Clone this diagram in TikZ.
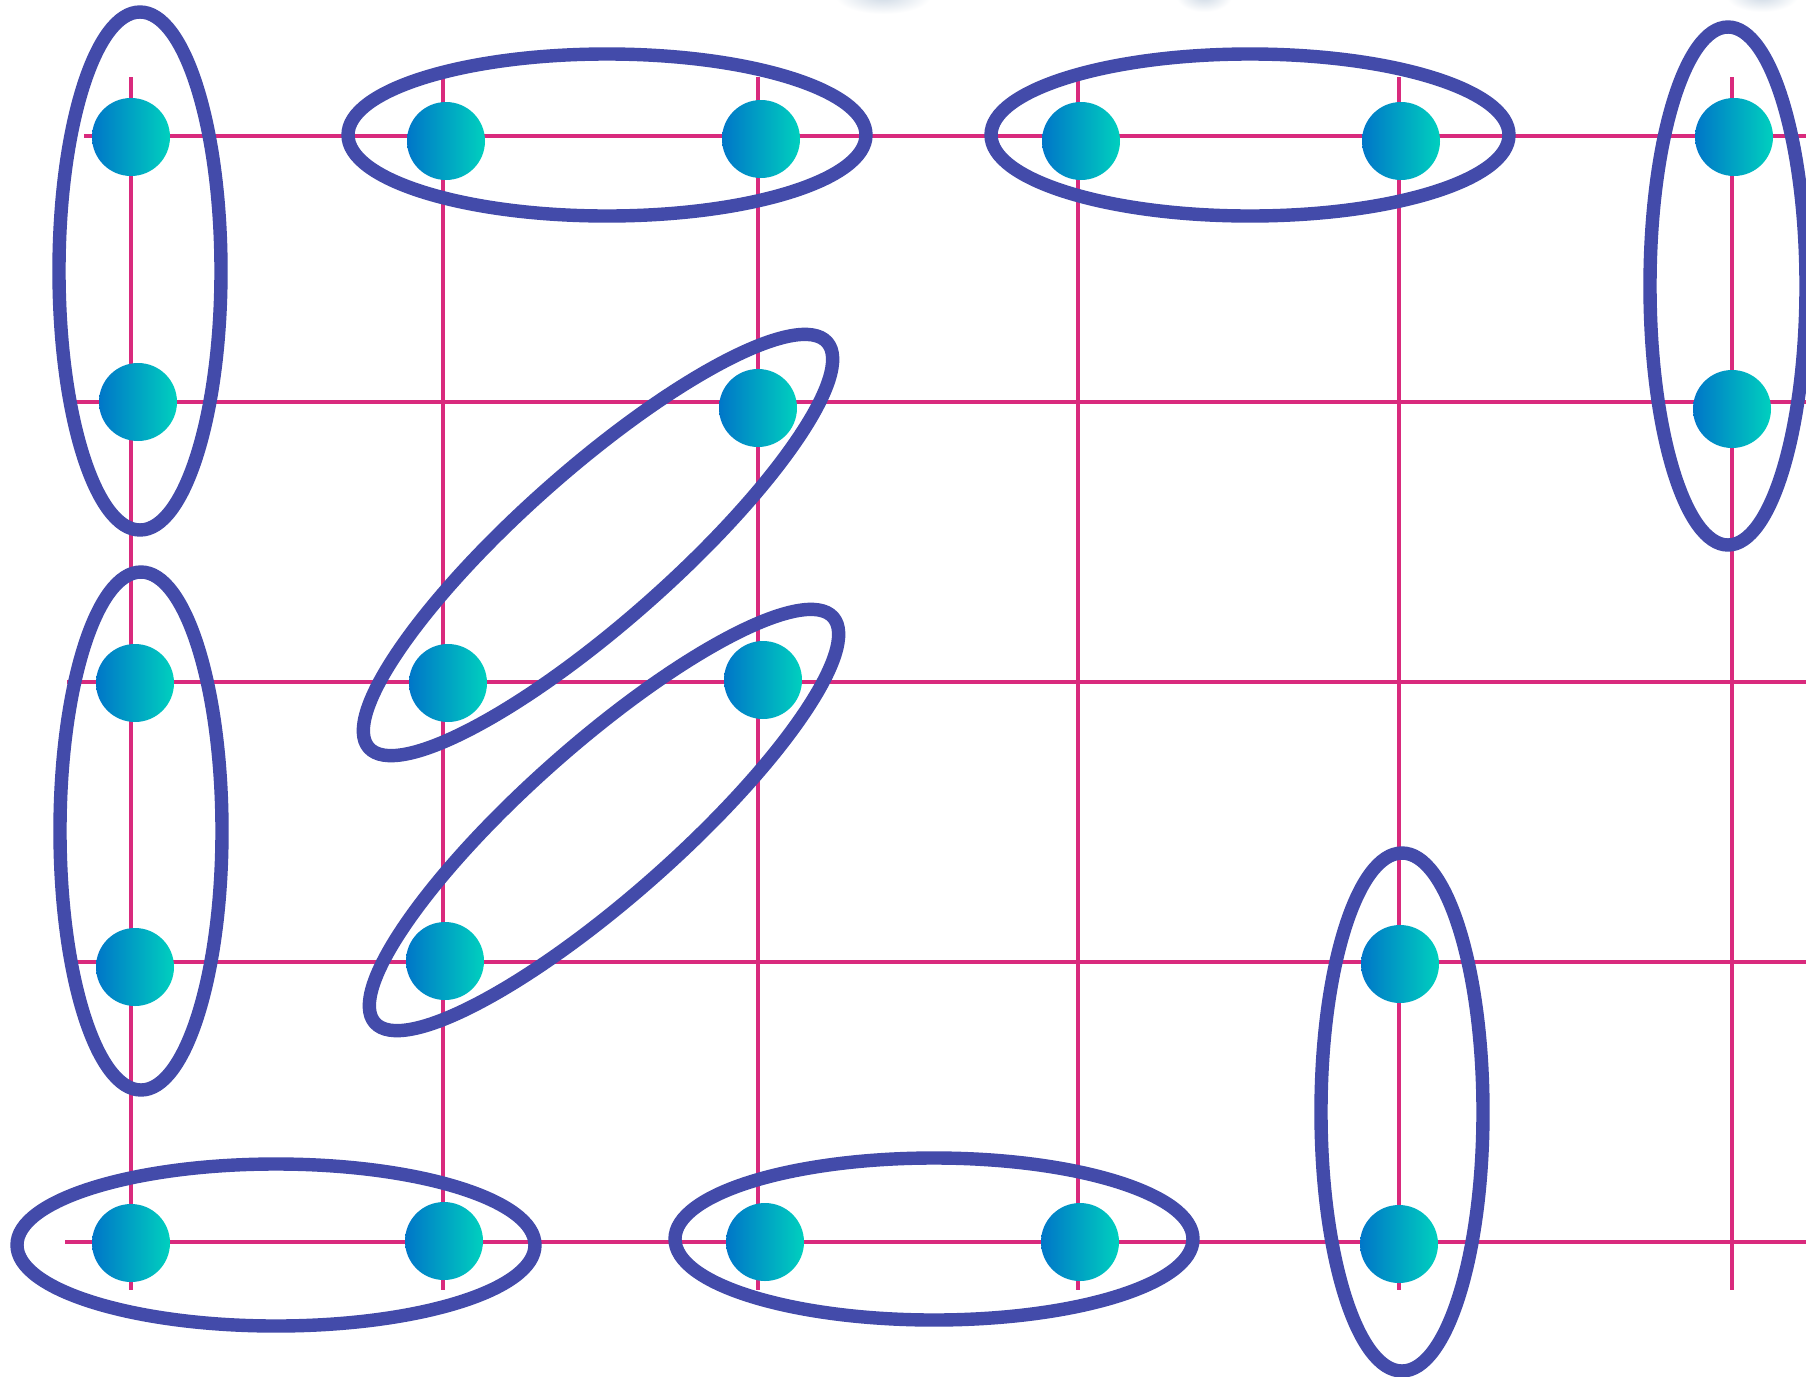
\documentclass[tikz,border=0pt]{standalone}
\usetikzlibrary{shapes.geometric}
\definecolor{gridpink}{RGB}{217,42,125}
\definecolor{ringblue}{RGB}{67,75,170}
\definecolor{dotleft}{RGB}{0,118,200}
\definecolor{dotright}{RGB}{0,208,190}
\definecolor{blobgray}{RGB}{205,216,228}
\tikzset{
  gridline/.style={draw=gridpink, line width=2.1pt},
  ring/.style={draw=ringblue, line width=6.7pt},
  dot/.style={circle, minimum size=39pt, inner sep=0pt, draw=none,
              left color=dotleft, right color=dotright},
  blob/.style={inner color=blobgray, outer color=white}
}
\begin{document}
\begin{tikzpicture}[x=0.5pt,y=-0.5pt]
\useasboundingbox (0,0) rectangle (1806,1377);
\clip (0,0) rectangle (1806,1377);
\fill[white] (0,0) rectangle (1806,1377);

% faint blobs at the top edge
\shade[blob] (883,-4) ellipse [x radius=24pt, y radius=9pt];
\shade[blob] (1204,-4) ellipse [x radius=14pt, y radius=8pt];
\shade[blob] (1762,-4) ellipse [x radius=18pt, y radius=8pt];

% grid
\foreach \x in {131,443,758,1078,1399,1732}
  \draw[gridline] (\x,77) -- (\x,1290);
\draw[gridline] (84,136) -- (1810,136);
\draw[gridline] (76,402) -- (1810,402);
\draw[gridline] (67,682) -- (1810,682);
\draw[gridline] (77,962) -- (1810,962);
\draw[gridline] (65,1242) -- (1810,1242);

% dots
\node[dot] (d1)  at (131,137)  {};
\node[dot] (d2)  at (446,141)  {};
\node[dot] (d3)  at (761,139)  {};
\node[dot] (d4)  at (1081,141) {};
\node[dot] (d5)  at (1401,141) {};
\node[dot] (d6)  at (1734,137) {};
\node[dot] (d7)  at (138,402)  {};
\node[dot] (d8)  at (758,408)  {};
\node[dot] (d9)  at (1732,409) {};
\node[dot] (d10) at (135,683)  {};
\node[dot] (d11) at (448,683)  {};
\node[dot] (d12) at (763,680)  {};
\node[dot] (d13) at (135,967)  {};
\node[dot] (d14) at (445,961)  {};
\node[dot] (d15) at (1400,964) {};
\node[dot] (d16) at (131,1243) {};
\node[dot] (d17) at (444,1241) {};
\node[dot] (d18) at (765,1242) {};
\node[dot] (d19) at (1080,1242) {};
\node[dot] (d20) at (1399,1244) {};

% rings
\draw[ring] (140,271)  ellipse [x radius=40.5pt, y radius=129.5pt];
\draw[ring] (607,135)  ellipse [x radius=129.5pt, y radius=40.5pt];
\draw[ring] (1250,135) ellipse [x radius=129.5pt, y radius=40.5pt];
\draw[ring] (1728,286) ellipse [x radius=39pt, y radius=129.5pt];
\draw[ring] (141,831)  ellipse [x radius=40.5pt, y radius=129.5pt];
\draw[ring] (276,1245) ellipse [x radius=129.5pt, y radius=40.5pt];
\draw[ring] (934,1239) ellipse [x radius=129.5pt, y radius=40.5pt];
\draw[ring] (1402,1112) ellipse [x radius=40.5pt, y radius=129.5pt];
\draw[ring, rotate around={41.5:(598,545)}] (598,545) ellipse [x radius=153pt, y radius=38pt];
\draw[ring, rotate around={41.5:(604,820)}] (604,820) ellipse [x radius=153pt, y radius=38pt];
\end{tikzpicture}
\end{document}
